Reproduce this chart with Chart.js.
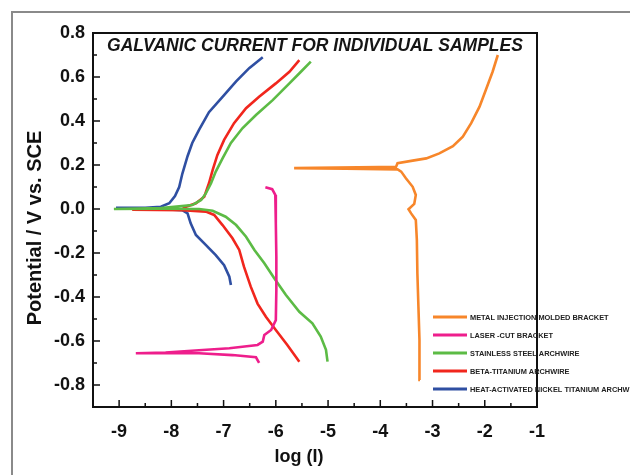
<!DOCTYPE html>
<html>
<head>
<meta charset="utf-8">
<script src="https://cdn.jsdelivr.net/npm/chart.js@4.4.1/dist/chart.umd.min.js"></script>
<style>
  html, body { margin: 0; padding: 0; background: #fff; }
  #wrap { width: 630px; height: 475px; position: relative; }
</style>
</head>
<body>
<div id="wrap"><canvas id="c" width="630" height="475"></canvas></div>
<script>
// ---- Data ----
const chartTitle = 'GALVANIC CURRENT FOR INDIVIDUAL SAMPLES';
const xTitle = 'log (I)';
const yTitle = 'Potential / V vs. SCE';
const xTickValues = [-9, -8, -7, -6, -5, -4, -3, -2, -1];
const yTickValues = [-0.8, -0.6, -0.4, -0.2, 0.0, 0.2, 0.4, 0.6, 0.8];

const seriesNames = [
  'METAL INJECTION MOLDED BRACKET',
  'LASER -CUT BRACKET',
  'STAINLESS STEEL ARCHWIRE',
  'BETA-TITANIUM ARCHWIRE',
  'HEAT-ACTIVATED NICKEL TITANIUM ARCHWIRE'
];
const seriesColors = ['#F7862A', '#EE1E8C', '#5CBB45', '#F1261D', '#2F4FA2'];

// Metal injection molded bracket
const mimLogI = [-3.24, -3.25, -3.27, -3.29, -3.30, -3.32, -3.41, -3.46, -3.35, -3.32, -3.38, -3.51, -3.60, -3.67,
  -4.66, -5.65, -4.02, -3.70, -3.67, -3.38, -3.12, -2.87, -2.61, -2.42, -2.26, -2.10, -1.98, -1.85, -1.75];
const mimE = [-0.777, -0.595, -0.444, -0.292, -0.141, -0.05, -0.02, -0.001, 0.023, 0.064, 0.101, 0.14, 0.17, 0.18,
  0.183, 0.186, 0.191, 0.191, 0.208, 0.22, 0.23, 0.253, 0.286, 0.329, 0.39, 0.465, 0.541, 0.624, 0.70];

// Laser-cut bracket
const lcbLogI = [-6.20, -6.07, -6.01, -6.00, -5.99, -5.99, -6.00, -6.09, -6.22, -6.25, -6.35, -6.64, -6.89,
  -7.40, -8.11, -8.68, -7.47, -6.83, -6.38, -6.32];
const lcbE = [0.099, 0.09, 0.064, -0.065, -0.217, -0.368, -0.505, -0.55, -0.573, -0.603, -0.618, -0.626, -0.633,
  -0.641, -0.652, -0.656, -0.656, -0.664, -0.674, -0.699];

// Stainless steel archwire
const ssLogI = [-5.01, -5.04, -5.14, -5.30, -5.55, -5.81, -6.03, -6.22, -6.41, -6.57, -6.76, -6.96, -7.21, -7.47,
  -8.2, -9.10, -8.2, -7.60, -7.43, -7.34, -7.24, -7.15, -7.02, -6.86, -6.64, -6.38, -6.06, -5.74, -5.52, -5.33];
const ssE = [-0.694, -0.64, -0.58, -0.52, -0.467, -0.39, -0.315, -0.247, -0.186, -0.126, -0.073, -0.035, -0.008, 0.0,
  0.001, 0.0, 0.004, 0.018, 0.041, 0.071, 0.117, 0.17, 0.23, 0.30, 0.367, 0.427, 0.495, 0.571, 0.624, 0.67];

// Beta-titanium archwire
const btLogI = [-5.55, -5.78, -6.00, -6.19, -6.35, -6.48, -6.61, -6.70, -6.83, -7.02, -7.18, -7.34, -7.79,
  -8.75, -7.79, -7.72, -7.53, -7.37, -7.28, -7.21, -7.12, -6.99, -6.80, -6.57, -6.32, -6.00, -5.74, -5.55];
const btE = [-0.694, -0.618, -0.55, -0.49, -0.43, -0.353, -0.262, -0.186, -0.133, -0.073, -0.027, -0.012, -0.005,
  -0.003, 0.0, 0.01, 0.026, 0.056, 0.117, 0.177, 0.245, 0.314, 0.39, 0.458, 0.51, 0.571, 0.624, 0.677];

// Heat-activated nickel titanium archwire
const haLogI = [-6.86, -6.89, -6.99, -7.15, -7.37, -7.53, -7.63, -7.69, -7.79, -8.5, -9.06, -8.5, -8.20, -8.04,
  -7.93, -7.85, -7.79, -7.69, -7.60, -7.47, -7.28, -7.02, -6.76, -6.51, -6.25];
const haE = [-0.345, -0.308, -0.255, -0.21, -0.156, -0.118, -0.065, -0.02, -0.005, 0.004, 0.005, 0.006, 0.01, 0.026,
  0.059, 0.10, 0.16, 0.24, 0.30, 0.36, 0.44, 0.51, 0.58, 0.64, 0.69];

const seriesX = [mimLogI, lcbLogI, ssLogI, btLogI, haLogI];
const seriesY = [mimE, lcbE, ssE, btE, haE];

// ---- Build datasets ----
const datasets = seriesNames.map((name, i) => ({
  label: name,
  data: seriesX[i].map((x, k) => ({ x: x, y: seriesY[i][k] })),
  borderColor: seriesColors[i],
  backgroundColor: seriesColors[i],
  borderWidth: 2.6,
  showLine: true,
  pointRadius: 0,
  tension: 0,
  fill: false
}));

const FONT = "'Liberation Sans', Arial, sans-serif";

const decor = {
  id: 'decor',
  beforeDraw(chart) {
    const ctx = chart.ctx;
    ctx.save();
    ctx.fillStyle = '#fff';
    ctx.fillRect(0, 0, chart.width, chart.height);
    ctx.strokeStyle = '#8a8a8a';
    ctx.lineWidth = 2;
    ctx.beginPath();
    ctx.moveTo(12, chart.height);
    ctx.lineTo(12, 12);
    ctx.lineTo(chart.width, 12);
    ctx.stroke();
    ctx.restore();
  },
  afterDraw(chart) {
    const ctx = chart.ctx;
    const a = chart.chartArea;
    const xs = chart.scales.x, ys = chart.scales.y;
    ctx.save();
    // frame
    ctx.strokeStyle = '#111';
    ctx.lineWidth = 2;
    ctx.strokeRect(a.left, a.top, a.right - a.left, a.bottom - a.top);
    // ticks (inward)
    ctx.lineWidth = 1.5;
    ctx.beginPath();
    for (let v = xs.min; v <= xs.max + 1e-9; v += 0.5) {
      const px = xs.getPixelForValue(v);
      const major = Math.abs(v - Math.round(v)) < 1e-6;
      ctx.moveTo(px, a.bottom);
      ctx.lineTo(px, a.bottom - (major ? 7 : 4));
    }
    for (let v = -0.9; v <= 0.8 + 1e-9; v += 0.1) {
      const py = ys.getPixelForValue(v);
      const major = Math.abs(v * 5 - Math.round(v * 5)) < 1e-6;
      ctx.moveTo(a.left, py);
      ctx.lineTo(a.left + (major ? 7 : 4), py);
    }
    ctx.stroke();
    // axis titles
    ctx.fillStyle = '#111';
    ctx.textAlign = 'center';
    ctx.textBaseline = 'middle';
    ctx.font = "bold 18px " + FONT;
    ctx.fillText(xTitle, a.left + 206, 457);
    ctx.save();
    ctx.translate(35, 228);
    ctx.rotate(-Math.PI / 2);
    ctx.font = "bold 20px " + FONT;
    ctx.fillText(yTitle, 0, 0);
    ctx.restore();
    // title inside plot
    ctx.fillStyle = '#151515';
    ctx.font = "italic bold 17.5px " + FONT;
    ctx.fillText(chartTitle, (a.left + a.right) / 2, a.top + 13);
    // legend inside plot
    ctx.textAlign = 'left';
    ctx.font = "bold 7.4px " + FONT;
    chart.data.datasets.forEach((ds, i) => {
      const y = a.top + 284 + i * 18;
      const x0 = a.left + 340;
      ctx.strokeStyle = ds.borderColor;
      ctx.lineWidth = 3;
      ctx.beginPath();
      ctx.moveTo(x0, y);
      ctx.lineTo(x0 + 34, y);
      ctx.stroke();
      ctx.fillStyle = '#222';
      ctx.fillText(ds.label, x0 + 37, y + 0.5);
    });
    ctx.restore();
  }
};

new Chart(document.getElementById('c'), {
  type: 'scatter',
  data: { datasets: datasets },
  options: {
    responsive: false,
    animation: false,
    devicePixelRatio: 1,
    layout: { padding: { top: 33, right: 93, left: 0, bottom: 0 } },
    plugins: {
      legend: { display: false },
      title: { display: false },
      tooltip: { enabled: false }
    },
    scales: {
      x: {
        type: 'linear',
        min: -9.5,
        max: -1,
        grid: { display: false, tickLength: 0 },
        border: { display: false },
        afterBuildTicks: s => { s.ticks = xTickValues.map(v => ({ value: v })); },
        afterFit: s => { s.height = 68; },
        ticks: {
          padding: 14,
          color: '#111',
          font: { family: FONT, size: 18, weight: 'bold' },
          callback: v => String(v)
        },
        title: { display: false }
      },
      y: {
        type: 'linear',
        min: -0.9,
        max: 0.8,
        grid: { display: false, tickLength: 0 },
        border: { display: false },
        afterBuildTicks: s => { s.ticks = yTickValues.map(v => ({ value: v })); },
        afterFit: s => { s.width = 93; },
        ticks: {
          padding: 8,
          color: '#111',
          font: { family: FONT, size: 18, weight: 'bold' },
          callback: v => Number(v).toFixed(1)
        },
        title: { display: false }
      }
    }
  },
  plugins: [decor]
});
</script>
</body>
</html>
